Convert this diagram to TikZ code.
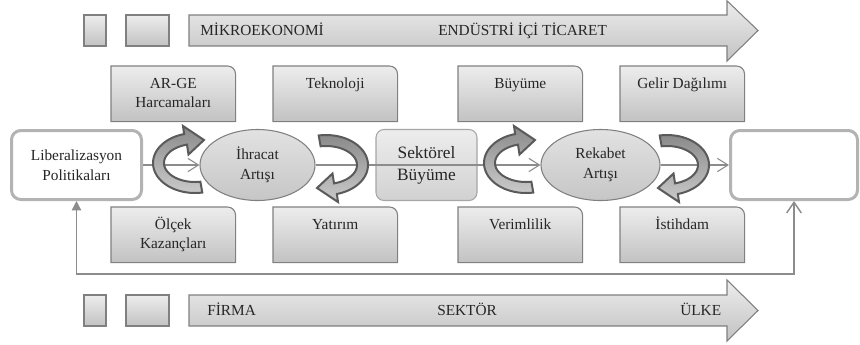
\documentclass[tikz,border=0pt]{standalone}
\usepackage{fontspec}
\setmainfont{Liberation Serif}
\usetikzlibrary{arrows.meta,shapes.geometric}
\definecolor{bord}{HTML}{808080}
\definecolor{gtop}{HTML}{EDEDED}
\definecolor{gbot}{HTML}{C2C2C2}
\definecolor{thickc}{HTML}{B3B3B3}
\definecolor{arrd}{HTML}{5A5A5A}
\definecolor{arrt}{HTML}{8A8A8A}
\definecolor{arrb}{HTML}{CACACA}
\definecolor{linec}{HTML}{8C8C8C}
\definecolor{txtc}{HTML}{262626}
\definecolor{ellt}{HTML}{E2E2E2}
\definecolor{ellb}{HTML}{C6C6C6}
\definecolor{sektb}{HTML}{A6A6A6}
\tikzset{
  gboxn/.style={rectangle, minimum width=93pt, minimum height=41.25pt, inner sep=0pt, anchor=north west},
  gboxd/.style={draw=bord, line width=0.8pt, top color=gtop, bottom color=gbot},
  gtxt/.style={anchor=north, inner sep=0pt, align=center, font=\fontsize{11.5}{14.25}\selectfont, text=txtc},
  atxt/.style={anchor=base west, inner sep=0pt, font=\fontsize{11.5}{14}\selectfont, text=txtc},
  bigarrow/.style={draw=bord, line width=0.8pt, top color=gtop, bottom color=gbot},
  sq/.style={draw=bord, line width=0.8pt, top color=gtop, bottom color=gbot},
  obox/.style={rectangle, draw=thickc, line width=2.25pt, fill=white, rounded corners=7pt, minimum height=51.75pt, inner sep=0pt, align=center, font=\fontsize{11.5}{15}\selectfont, text=txtc},
  ell/.style={ellipse, draw=bord, line width=0.8pt, top color=ellt, bottom color=ellb, minimum height=53.25pt, inner sep=0pt, align=center, font=\fontsize{11.5}{15}\selectfont, text=txtc},
  sekt/.style={rectangle, draw=sektb, line width=0.8pt, top color=gtop, bottom color=ellb!80, rounded corners=6pt, minimum width=75.75pt, minimum height=53.25pt, inner sep=0pt, align=center, font=\fontsize{13}{16.5}\selectfont, text=txtc},
  conn/.style={draw=linec, line width=0.8pt, -{Straight Barb[length=8pt,width=10pt]}},
  fbline/.style={draw=linec, line width=1.1pt, {Triangle[length=7pt,width=7pt]}-{Straight Barb[length=8pt,width=11pt]}},
  curl/.style={draw=arrd, line width=1.5pt, top color=arrt, bottom color=arrb, line join=miter}
}
\newcommand{\gbox}[4]{%
  \node[gboxn] (#1) at (#2,#3) {};
  \draw[gboxd] (#1.south west) -- (#1.north west) -- ([xshift=-6pt]#1.north east) arc[start angle=90,end angle=0,radius=6pt] -- (#1.south east) -- cycle;
  \node[gtxt] (#1t) at ([yshift=-6.75pt]#1.north) {\strut #4};
}
\newcommand{\curlarrow}[3]{%
  \begin{scope}[shift={(#1,#2)}, rotate=#3]
  \draw[curl] plot[domain=80:255,samples=40] ({42*cos(\x)},{30*sin(\x)}) -- (-12,-37) -- (9,-23) -- (-6.5,-8.5) -- plot[domain=255:80,samples=40] ({31*cos(\x)},{19*sin(\x)}) -- cycle;
  \end{scope}
}
\begin{document}
\begin{tikzpicture}[x=0.75pt,y=-0.75pt]
\useasboundingbox (0,0) rectangle (860,344);
% top band
\draw[sq] (84,15) rectangle (106,46);
\draw[sq] (126,15) rectangle (169,46);
\draw[bigarrow] (189,15) -- (727,15) -- (727,0.8) -- (758,30.5) -- (727,61) -- (727,46) -- (189,46) -- cycle;
\node[atxt] (mikro) at (200,35.5) {MİKROEKONOMİ};
\node[atxt] (endus) at (438,35.5) {ENDÜSTRİ İÇİ TİCARET};
% bottom band
\draw[sq] (84,295) rectangle (106,326);
\draw[sq] (126,295) rectangle (169,326);
\draw[bigarrow] (189,295) -- (727,295) -- (727,280) -- (758,310.5) -- (727,341) -- (727,326) -- (189,326) -- cycle;
\node[atxt] (firma) at (207,315.5) {FİRMA};
\node[atxt] (sektor) at (437,315.5) {SEKTÖR};
\node[atxt] (ulke) at (680,315.5) {ÜLKE};
% top boxes
\gbox{arge}{111}{66}{AR-GE\\Harcamaları}
\gbox{tekno}{273}{66}{Teknoloji}
\gbox{buyume}{458}{66}{Büyüme}
\gbox{gelir}{620}{66}{Gelir Dağılımı}
% bottom boxes
\gbox{olcek}{111}{207}{Ölçek\\Kazançları}
\gbox{yatirim}{273}{207}{Yatırım}
\gbox{verim}{458}{207}{Verimlilik}
\gbox{istih}{620}{207}{İstihdam}
% middle row
\node[obox, minimum width=97.5pt] (lib) at (76.5,165) {Liberalizasyon\\Politikaları};
\node[obox, minimum width=95.25pt] (rbox) at (794,165) {};
\node[ell, minimum width=86.25pt] (ihr) at (257.5,165) {İhracat\\Artışı};
\node[sekt] (sek) at (426.5,165) {Sektörel\\Büyüme};
\node[ell, minimum width=89.25pt] (rek) at (600.5,165) {Rekabet\\Artışı};
% connectors
\draw[conn] (lib.east) -- (ihr.west);
\draw[conn] (ihr.east) -- (rek.west);
\draw[conn] (rek.east) -- (rbox.west);
\coordinate (fb) at (436,274);
\draw[fbline] (lib.south) |- (fb) -| (rbox.south);
% curved arrows
\curlarrow{195}{163}{0}
\curlarrow{326}{165}{180}
\curlarrow{526}{163}{0}
\curlarrow{667}{165}{180}
\end{tikzpicture}
\end{document}
